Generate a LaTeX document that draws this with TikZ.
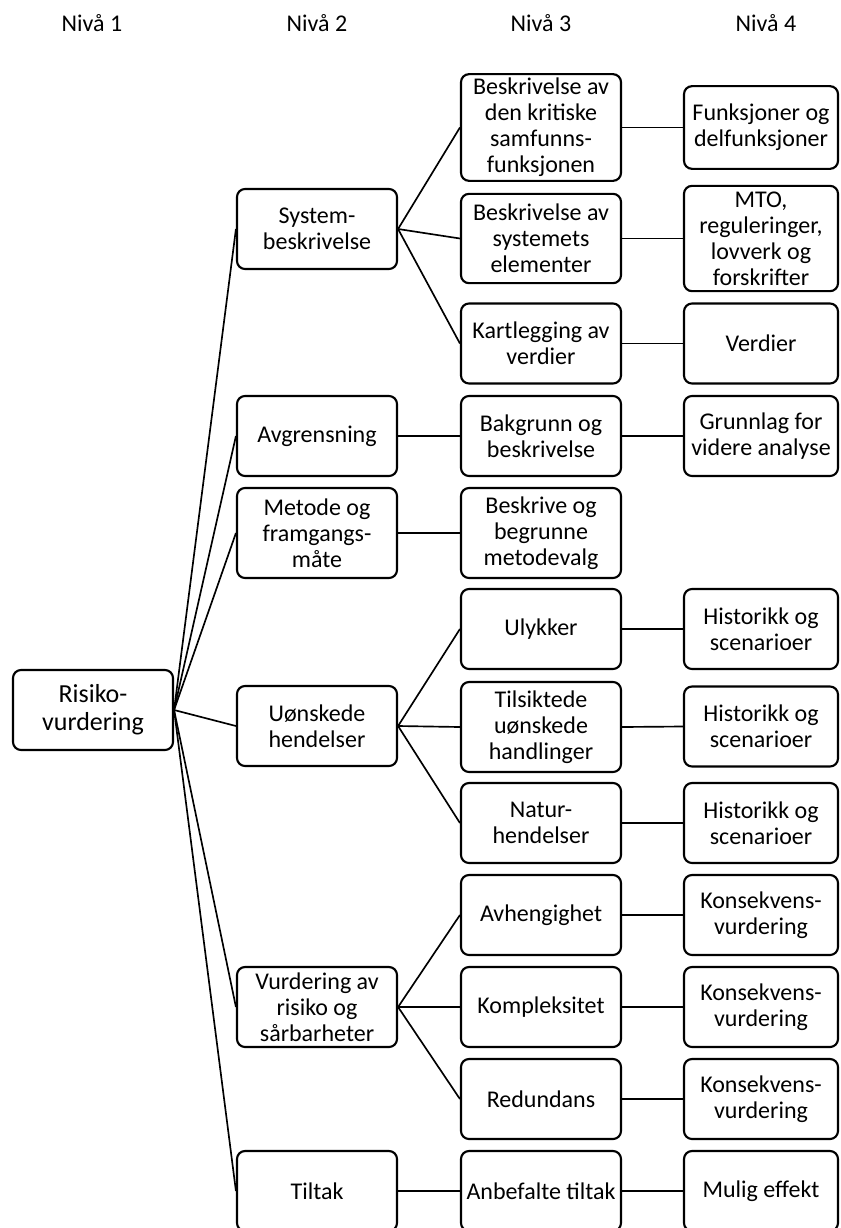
\documentclass[tikz,border=0pt]{standalone}
\usepackage{fontspec}
\setmainfont{Carlito}
\usetikzlibrary{positioning}

\begin{document}
\begin{tikzpicture}[x=0.75pt,y=-0.75pt,
  box/.style={draw,line width=1.6pt,rounded corners=6pt,align=center,
    minimum width=120pt,minimum height=60pt,inner sep=2pt,
    font=\fontsize{18}{19.5}\selectfont},
  lfour/.style={box,minimum width=115.5pt},
  head/.style={font=\fontsize{18}{19.5}\selectfont},
  link/.style={line width=1.25pt}]
\useasboundingbox (0,0) rectangle (840,1228);
% headers
\foreach \x/\n in {92/1,317/2,541/3,766/4}
  \node[head] (niva\n) at (\x,23) {Nivå \n};
% level 1
\node[box,font=\fontsize{19.5}{21}\selectfont] (risiko) at (93,710) {Risiko-\\vurdering};
% level 2
\node[box] (sys) at (317,229) {System-\\beskrivelse};
\node[box] (avg) at (317,436) {Avgrensning};
\node[box,minimum height=67.5pt] (met) at (317,533) {Metode og\\framgangs-\\måte};
\node[box] (uon) at (317,726) {Uønskede\\hendelser};
\node[box] (vur) at (317,1007) {Vurdering av\\risiko og\\sårbarheter};
\node[box] (til) at (317,1191) {Tiltak};
% level 3
\node[box,minimum height=80pt] (kri) at (541,127.5) {Beskrivelse av\\den kritiske\\samfunns-\\funksjonen};
\node[box,minimum height=67pt] (ele) at (541,238.5) {Beskrivelse av\\systemets\\elementer};
\node[box] (kar) at (541,343.5) {Kartlegging av\\verdier};
\node[box] (bak) at (541,436) {Bakgrunn og\\beskrivelse};
\node[box,minimum height=67.5pt] (bes) at (541,533) {Beskrive og\\begrunne\\metodevalg};
\node[box] (uly) at (541,629) {Ulykker};
\node[box,minimum height=67.5pt] (tils) at (541,727) {Tilsiktede\\uønskede\\handlinger};
\node[box] (nat) at (541,823) {Natur-\\hendelser};
\node[box] (avh) at (541,915) {Avhengighet};
\node[box] (kom) at (541,1007) {Kompleksitet};
\node[box] (red) at (541,1099) {Redundans};
\node[box] (anb) at (541,1191) {Anbefalte tiltak};
% level 4
\node[lfour,minimum height=62pt] (fun) at (761,127.5) {Funksjoner og\\delfunksjoner};
\node[lfour,minimum height=79pt] (mto) at (761,238.5) {MTO,\\reguleringer,\\lovverk og\\forskrifter};
\node[lfour] (ver) at (761,343.5) {Verdier};
\node[lfour] (gru) at (761,436) {Grunnlag for\\videre analyse};
\node[lfour] (his1) at (761,629) {Historikk og\\scenarioer};
\node[lfour] (his2) at (761,726.5) {Historikk og\\scenarioer};
\node[lfour] (his3) at (761,823) {Historikk og\\scenarioer};
\foreach \i/\y in {1/915,2/1007,3/1099}
  \node[lfour] (kon\i) at (761,\y) {Konsekvens-\\vurdering};
\node[lfour] (mul) at (761,1191) {Mulig effekt};
% connectors
\foreach \b in {sys,avg,met,uon,vur,til}
  \draw[link] (risiko.east) -- (\b.west);
\foreach \a/\b in {sys/kri,sys/ele,sys/kar,avg/bak,met/bes,uon/uly,uon/tils,uon/nat,
    vur/avh,vur/kom,vur/red,til/anb,kri/fun,ele/mto,kar/ver,bak/gru,uly/his1,
    tils/his2,nat/his3,avh/kon1,kom/kon2,red/kon3,anb/mul}
  \draw[link] (\a.east) -- (\b.west);
\end{tikzpicture}
\end{document}
